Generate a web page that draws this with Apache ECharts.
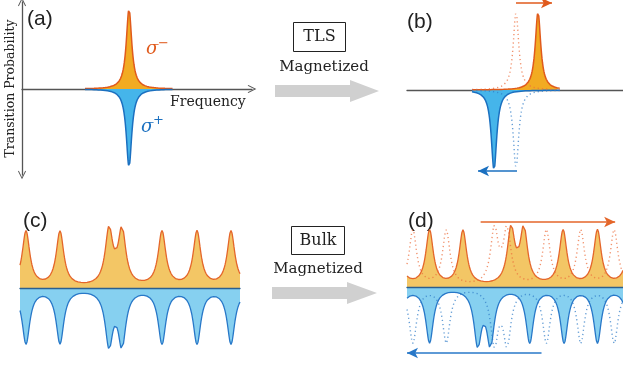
<!DOCTYPE html>
<html><head><meta charset="utf-8">
<script src="https://cdn.jsdelivr.net/npm/echarts@6/dist/echarts.min.js"></script>
<style>html,body{margin:0;padding:0;background:#fff}#c{width:623px;height:366px}</style>
</head><body><div id="c"></div>
<script>
// ---------- values (x in frequency units of each panel) ----------
// Panel (a): single two-level-system line
const tlsCenterA = [107];
const tlsRangeA = [63, 151];
const tlsWidth = [3.3];
const tlsHeightsA = [80, 78];          // sigma-, sigma+
// Panel (b): magnetized TLS (original line at tlsCenterB, split by +/- shift)
const tlsCenterB = [109];
const tlsShiftB = [22];
const tlsRangeB = [65, 153];
const tlsHeightsB = [78, 80, 78, 78];  // solid sigma-, solid sigma+, dotted sigma-, dotted sigma+
// Panels (c)/(d): bulk comb of lines
const bulkCenters = [-28, 6, 40, 89, 102, 142, 177, 211, 245];
const bulkWidth = [4.6];
const bulkHeights = [55, 54];          // upper (sigma-), lower (sigma+)
const bulkShift = [17];
const bulkRange = [0, 220];

// ---------- helpers ----------
function lor(x, centers, g, a) {
  let s = 0;
  for (const c of centers) s += a * g * g / ((x - c) * (x - c) + g * g);
  return s;
}
function curve(range, step, centers, g, a, sign) {
  const out = [];
  for (let x = range[0]; x <= range[1] + 1e-9; x += step) out.push([x, sign * lor(x, centers, g, a)]);
  return out;
}
const shifted = (arr, d) => arr.map(c => c + d);

const OR_LINE = '#e05a1c', OR_FILL = '#f2ab22', BL_LINE = '#1b70c0', BL_FILL = '#45b5ea';
const OR_LINE2 = '#e4662a', OR_FILL2 = '#f3c665', BL_LINE2 = '#2878c8', BL_FILL2 = '#86d0f0';
const OR_DOT = 'rgba(236,110,60,0.75)', BL_DOT = 'rgba(50,125,200,0.75)';
const AX = '#555';
const chevron = 'path://M0,10 L5,0 L10,10 L9,10.8 L5,2.6 L1,10.8 Z';

function xa(gi, min, max, show, color, z) {
  return { gridIndex: gi, type: 'value', min: min, max: max, z: z || 0,
    axisLine: { show: show, onZero: true, lineStyle: { color: color || AX, width: 1.3 } },
    axisTick: { show: false }, axisLabel: { show: false }, splitLine: { show: false } };
}
function ya(gi, min, max) {
  return { gridIndex: gi, type: 'value', min: min, max: max, show: false,
    axisLine: { show: false }, splitLine: { show: false } };
}
function area(xi, data, line, fill, w) {
  return { type: 'line', xAxisIndex: xi, yAxisIndex: xi, data: data, showSymbol: false, symbol: 'none',
    silent: true, lineStyle: { color: line, width: w || 1.5 }, areaStyle: { color: fill, opacity: 1, origin: 'auto' } };
}
function dotted(xi, data, col) {
  return { type: 'line', xAxisIndex: xi, yAxisIndex: xi, data: data, showSymbol: false, symbol: 'none',
    silent: true, z: 4, lineStyle: { color: col, width: 1.4, type: [1.2, 3] } };
}
function arrowML(x1, y1, x2, y2, col) {
  return { silent: true, symbol: ['none', 'arrow'], symbolSize: [8, 11], animation: false,
    label: { show: false }, lineStyle: { color: col, width: 1.6, type: 'solid' },
    data: [[{ coord: [x1, y1] }, { coord: [x2, y2] }]] };
}

const g = tlsWidth[0], gb = bulkWidth[0];
const serif = '"DejaVu Serif", serif';

// panel (a)
const aUp = curve(tlsRangeA, 0.25, tlsCenterA, g, tlsHeightsA[0], 1);
const aDn = curve(tlsRangeA, 0.25, tlsCenterA, g, tlsHeightsA[1], -1);
// panel (b)
const c0 = tlsCenterB[0], sh = tlsShiftB[0];
const bUp = curve(tlsRangeB, 0.25, [c0 + sh], g, tlsHeightsB[0], 1);
const bDn = curve(tlsRangeB, 0.25, [c0 - sh], g, tlsHeightsB[1], -1);
const bUpDot = curve(tlsRangeB, 0.25, [c0], g, tlsHeightsB[2], 1);
const bDnDot = curve(tlsRangeB, 0.25, [c0], g, tlsHeightsB[3], -1);
// panel (c)
const cUp = curve(bulkRange, 0.5, bulkCenters, gb, bulkHeights[0], 1);
const cDn = curve(bulkRange, 0.5, bulkCenters, gb, bulkHeights[1], -1);
// panel (d)
const dUp = curve(bulkRange, 0.5, shifted(bulkCenters, bulkShift[0]), gb, bulkHeights[0], 1);
const dDn = curve(bulkRange, 0.5, shifted(bulkCenters, -bulkShift[0]), gb, bulkHeights[1], -1);
const dUpDot = curve(bulkRange, 0.5, bulkCenters, gb, bulkHeights[0], 1);
const dDnDot = curve(bulkRange, 0.5, bulkCenters, gb, bulkHeights[1], -1);

const sUpB = area(1, bUp, OR_LINE, OR_FILL);
sUpB.markLine = arrowML(c0, 87, c0 + 36, 87, OR_LINE);
const sDnB = area(1, bDn, BL_LINE, BL_FILL);
sDnB.markLine = arrowML(c0 + 1, -81, c0 - 38, -81, BL_LINE);
const sUpD = area(3, dUp, OR_LINE2, OR_FILL2, 1.3);
sUpD.markLine = arrowML(75, 65, 212, 65, OR_LINE2);
const sDnD = area(3, dDn, BL_LINE2, BL_FILL2, 1.3);
sDnD.markLine = arrowML(137, -66, 0, -66, BL_LINE2);

function grayArrow(x0, xh, xt, yc, hb, hh) {
  return { type: 'polygon', silent: true, shape: { points: [[x0, yc - hb], [xh, yc - hb], [xh, yc - hh], [xt, yc], [xh, yc + hh], [xh, yc + hb], [x0, yc + hb]] },
    style: { fill: '#d0d0d0' } };
}
function txt(x, y, s, font, col, align) {
  return { type: 'text', x: x, y: y, silent: true, style: { text: s, font: font, fill: col || '#222', align: align || 'left', verticalAlign: 'middle' } };
}

const option = {
  animation: false,
  backgroundColor: '#fff',
  grid: [
    { left: 22, top: 2, width: 230, height: 173 },
    { left: 407, top: 0, width: 216, height: 180 },
    { left: 20, top: 218, width: 220, height: 140 },
    { left: 407, top: 217, width: 220, height: 140 }
  ],
  xAxis: [
    Object.assign(xa(0, 0, 230, true), { axisLine: { show: true, onZero: true, symbol: ['none', chevron], symbolSize: [8, 9], lineStyle: { color: AX, width: 1.3 } } }),
    xa(1, 0, 216, true),
    xa(2, 0, 220, true, '#2c5f8f', 5),
    xa(3, 0, 220, true, '#2c5f8f', 5)
  ],
  yAxis: [
    { gridIndex: 0, type: 'value', min: -86, max: 87, splitLine: { show: false }, axisTick: { show: false }, axisLabel: { show: false },
      axisLine: { show: true, onZero: true, symbol: [chevron, chevron], symbolSize: [8, 9], lineStyle: { color: AX, width: 1.3 } },
      name: 'Transition Probability', nameLocation: 'middle', nameGap: 5, nameRotate: 90,
      nameTextStyle: { fontFamily: serif, fontSize: 12.5, color: '#222' } },
    ya(1, -90, 90),
    ya(2, -70, 70),
    ya(3, -70, 70)
  ],
  series: [
    area(0, aUp, OR_LINE, OR_FILL),
    area(0, aDn, BL_LINE, BL_FILL),
    sUpB, sDnB,
    dotted(1, bUpDot, OR_DOT), dotted(1, bDnDot, BL_DOT),
    area(2, cUp, OR_LINE2, OR_FILL2, 1.3),
    area(2, cDn, BL_LINE2, BL_FILL2, 1.3),
    sUpD, sDnD,
    dotted(3, dUpDot, OR_DOT), dotted(3, dDnDot, BL_DOT)
  ],
  graphic: [
    txt(27, 19, '(a)', '21px "Liberation Sans", Arial, sans-serif'),
    txt(407, 22, '(b)', '21px "Liberation Sans", Arial, sans-serif'),
    txt(23, 221, '(c)', '21px "Liberation Sans", Arial, sans-serif'),
    txt(408, 221, '(d)', '21px "Liberation Sans", Arial, sans-serif'),
    txt(170, 102, 'Frequency', '14px ' + serif),
    txt(146, 49, 'σ', 'italic 18px ' + serif, OR_LINE),
    txt(158, 44, '−', '13px ' + serif, OR_LINE),
    txt(141, 127, 'σ', 'italic 18px ' + serif, BL_LINE),
    txt(153, 121, '+', '13px ' + serif, BL_LINE),
    { type: 'rect', silent: true, shape: { x: 293.5, y: 22.5, width: 52, height: 29 }, style: { fill: 'none', stroke: '#222', lineWidth: 1 } },
    txt(319.5, 37, 'TLS', '16px ' + serif, '#222', 'center'),
    txt(324, 67, 'Magnetized', '15px ' + serif, '#222', 'center'),
    grayArrow(275, 350, 379, 91, 6, 11),
    { type: 'rect', silent: true, shape: { x: 291.5, y: 226.5, width: 53, height: 28 }, style: { fill: 'none', stroke: '#222', lineWidth: 1 } },
    txt(318, 241, 'Bulk', '16px ' + serif, '#222', 'center'),
    txt(318, 269, 'Magnetized', '15px ' + serif, '#222', 'center'),
    grayArrow(272, 347, 377, 293, 6, 11)
  ]
};
const chart = echarts.init(document.getElementById('c'), null, { renderer: 'canvas' });
chart.setOption(option);
</script>
</body></html>
